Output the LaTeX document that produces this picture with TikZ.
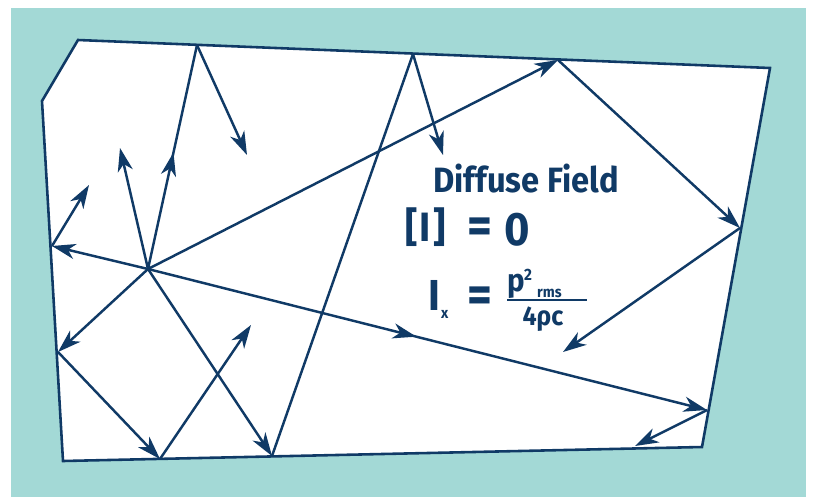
\documentclass[tikz,border=0pt]{standalone}
\usepackage{fontspec}
\newfontfamily\dinfont{Fira Sans}[FakeStretch=0.93]
\definecolor{rfnavy}{RGB}{16,58,102}
\definecolor{rfteal}{RGB}{163,217,214}
\usetikzlibrary{arrows.meta,decorations.markings}

\begin{document}
\begin{tikzpicture}[x=0.03cm, y=-0.03cm,
  wall/.style={draw=rfnavy, line width=2.2pt, line join=miter},
  ray/.style={draw=rfnavy, line width=2.1pt},
  tipped/.style={ray, -{Stealth[length=20pt,width=13pt,inset=6pt]}},
  midtip/.style={ray, postaction={decorate}, decoration={markings, mark=at position #1 with {\arrow{Stealth[length=20pt,width=13pt,inset=6pt]}}}},
  fieldtext/.style={text=rfnavy, font=\dinfont\bfseries\fontsize{30}{30}\selectfont, inner sep=0pt},
  eqtext/.style={fieldtext, font=\dinfont\bfseries\fontsize{44}{44}\selectfont}
]
  \useasboundingbox (0,0) rectangle (813,497);
  \fill[rfteal] (11,8) rectangle (806,497);

  %% room outline
  \filldraw[fill=white, wall] (78,40) -- (770,68) -- (702,447) -- (63,461) -- (42,101) -- cycle;

  %% source and reflection points
  \coordinate (src) at (148,269);
  \coordinate (wl1) at (52,246);
  \coordinate (wl2) at (58,352);
  \coordinate (wt1) at (197,45);
  \coordinate (wt2) at (413,54);
  \coordinate (wt3) at (558,60);
  \coordinate (wr1) at (740,228);
  \coordinate (wr2) at (707,410);
  \coordinate (wb1) at (160,459);
  \coordinate (wb2) at (272,456);
  %% free ends
  \coordinate (e1) at (89,185);
  \coordinate (e2) at (120,148);
  \coordinate (e3) at (247,155);
  \coordinate (e4) at (443,155);
  \coordinate (e5) at (563,352);
  \coordinate (e6) at (635,446);
  \coordinate (e7) at (251,325);

  %% rays
  \draw[tipped] (src) -- (wl1);
  \draw[tipped] (wl1) -- (e1);
  \draw[midtip=0.48, tipped] (src) -- (wr2);
  \draw[tipped] (wr2) -- (e6);
  \draw[tipped] (src) -- (wt3);
  \draw[tipped] (wt3) -- (wr1);
  \draw[tipped] (wr1) -- (e5);
  \draw[tipped] (src) -- (e2);
  \draw[midtip=0.52] (src) -- (wt1);
  \draw[tipped] (wt1) -- (e3);
  \draw[tipped] (src) -- (wl2);
  \draw[tipped] (wl2) -- (wb1);
  \draw[tipped] (wb1) -- (e7);
  \draw[tipped] (src) -- (wb2);
  \draw[ray] (wb2) -- (wt2);
  \draw[tipped] (wt2) -- (e4);

  %% labels
  \node[fieldtext, anchor=base west] (title) at (433,192) {Diffuse Field};
  \node[fieldtext, anchor=base west, font=\dinfont\bfseries\fontsize{35}{35}\selectfont] (mean) at (405,241) {[\hspace{2pt}I\hspace{2pt}]};
  \node[eqtext] (meaneq) at (480,231) {=};
  \node[fieldtext, anchor=base west, font=\dinfont\bfseries\fontsize{40}{40}\selectfont] (zero) at (504,245) {0};
  \node[fieldtext, anchor=base west, font=\dinfont\bfseries\fontsize{37}{37}\selectfont] (ivar) at (428,310) {I};
  \node[fieldtext, anchor=base west, font=\dinfont\bfseries\fontsize{13}{13}\selectfont] (isub) at (441,318) {x};
  \node[eqtext] (eqsign) at (480,300) {=};
  \node[fieldtext, anchor=base west, font=\dinfont\bfseries\fontsize{27}{27}\selectfont] (pvar) at (507,291) {p};
  \node[fieldtext, anchor=base west, font=\dinfont\bfseries\fontsize{14}{14}\selectfont] (psup) at (524,280) {2};
  \node[fieldtext, anchor=base west, font=\dinfont\bfseries\fontsize{13}{13}\selectfont] (prms) at (537,297) {rms};
  \node[fieldtext, anchor=base, font=\dinfont\bfseries\fontsize{23}{23}\selectfont] (den) at (543,325) {4ρc};
  \coordinate (barl) at (507,300);
  \coordinate (barr) at (587,300);
  \draw[rfnavy, line width=1.5pt] (barl) -- (barr);
\end{tikzpicture}
\end{document}
